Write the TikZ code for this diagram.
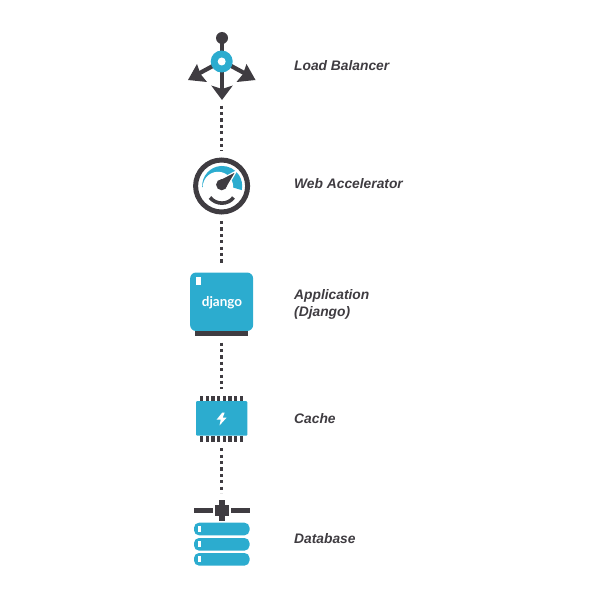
\documentclass[tikz,border=0pt]{standalone}
\usepackage{fontspec}
\setmainfont{Liberation Sans}
\newfontfamily\logofont{Lato}
\usetikzlibrary{positioning}
\definecolor{tierblue}{HTML}{2CACCF}
\definecolor{tierdark}{HTML}{3F3C41}
\tikzset{
  tierlabel/.style={anchor=west, align=left, inner sep=0pt, text=tierdark, font=\fontsize{13.8}{17}\selectfont\bfseries\itshape},
  tierlink/.style={tierdark, line width=3pt, dash pattern=on 3.2pt off 3.2pt, shorten <=6.5pt, shorten >=7pt},
  tierarea/.style={inner sep=0pt, outer sep=0pt},
  bluefill/.style={fill=tierblue, draw=none},
  darkfill/.style={fill=tierdark, draw=none},
}
\begin{document}
\begin{tikzpicture}[x=1pt, y=-1pt]
  \useasboundingbox (0,0) rectangle (593,591);

  % areas that the connectors run between
  \node[tierarea, minimum width=67pt, minimum height=67pt]   (balancer) at (221.6,65.5)  {};
  \node[tierarea, circle, minimum size=57pt]                 (accel)    at (221.6,186) {};
  \node[tierarea, minimum width=63pt, minimum height=58.5pt, bluefill, rounded corners=6pt] (app) at (221.6,301.75) {};
  \node[tierarea, minimum width=52.5pt, minimum height=5pt, darkfill, below=0pt of app]     (appbar) {};
  \node[tierarea, minimum width=51pt, minimum height=46pt]   (cache)    at (221.6,418.7) {};
  \node[tierarea, minimum width=56pt, minimum height=66pt]   (database) at (221.6,533) {};

  \draw[tierlink] (balancer) -- (accel);
  \draw[tierlink] (accel) -- (app);
  \draw[tierlink] (appbar) -- (cache);
  \draw[tierlink] (cache) -- (database);

  % load balancer
  \draw[tierdark, line width=4.5pt] (222,38) -- (222,90);
  \draw[tierdark, line width=4.2pt] (222,61) -- (198,74);
  \draw[tierdark, line width=4.2pt] (222,61) -- (246,74);
  \fill[tierdark] (222,38) circle (6);
  \fill[tierdark] (222,100) -- (211.2,85.5) -- (222,89) -- (232.8,85.5) -- cycle;
  \fill[tierdark] (188,80) -- (197,64) -- (200.5,74) -- (207,82) -- cycle;
  \fill[tierdark] (255.5,80) -- (246.5,64) -- (243,74) -- (236.5,82) -- cycle;
  \fill[tierblue] (221.7,61.5) circle (11);
  \fill[white] (221.7,61.5) circle (4);

  % web accelerator
  \draw[tierdark, line width=5pt] (accel) circle (26);
  \fill[tierblue] (202.2,187) arc[start angle=177, end angle=372, radius=20] -- (233,187.5) -- cycle;
  \fill[white] (218,187) circle (15.2);
  \fill[tierdark, draw=white, line width=1.2pt] (236.5,171) -- (226,188.8) -- (217.6,180.6) -- cycle;
  \fill[tierdark] (221.7,184.7) circle (5.6);
  \draw[tierdark, line width=3.6pt] (210,197.5) .. controls (216,205) and (228,205) .. (233.5,197.5);

  % application
  \fill[white] (195.8,277.3) rectangle (200.6,285);
  \node[anchor=base, inner sep=0pt, text=white, font=\logofont\fontsize{13.5}{14}\selectfont\bfseries] (djangotext) at (222,306.5) {django};

  % cache
  \fill[tierblue, rounded corners=1pt] (196,401.2) rectangle (247.3,435.7);
  \foreach \pinx in {201.7,207.3,212.9,218.6,224.3,230,235.7,241.5} {
    \fill[tierdark] (\pinx-1.7,395.7) rectangle (\pinx+1.7,401.2);
    \fill[tierdark] (\pinx-1.7,435.7) rectangle (\pinx+1.7,441.7);
  }
  \fill[white] (222.3,412.5) -- (216.7,419.5) -- (220.7,419.5) -- (219.5,425.5) -- (226.7,417.5) -- (222.7,417.5) -- (224.7,412.5) -- cycle;

  % database
  \fill[tierdark] (194,508) rectangle (213.3,512.8);
  \fill[tierdark] (230.5,508) rectangle (249.7,512.8);
  \fill[tierdark] (214.5,505.3) rectangle (229.3,516);
  \fill[tierdark] (218.8,500) rectangle (224.8,521);
  \foreach \bary in {522.7,538,553} {
    \fill[tierblue, rounded corners=5pt] (194,\bary) rectangle (249.5,\bary+12.6);
    \fill[white] (197.7,\bary+3.3) rectangle (201.3,\bary+9.3);
  }

  % labels
  \node[tierlabel] (balancerlabel) at (294,66)  {Load Balancer};
  \node[tierlabel] (accellabel)    at (294,184) {Web Accelerator};
  \node[tierlabel] (applabel)      at (294,304) {Application\\(Django)};
  \node[tierlabel] (cachelabel)    at (294,419) {Cache};
  \node[tierlabel] (databaselabel) at (294,539) {Database};
\end{tikzpicture}
\end{document}
